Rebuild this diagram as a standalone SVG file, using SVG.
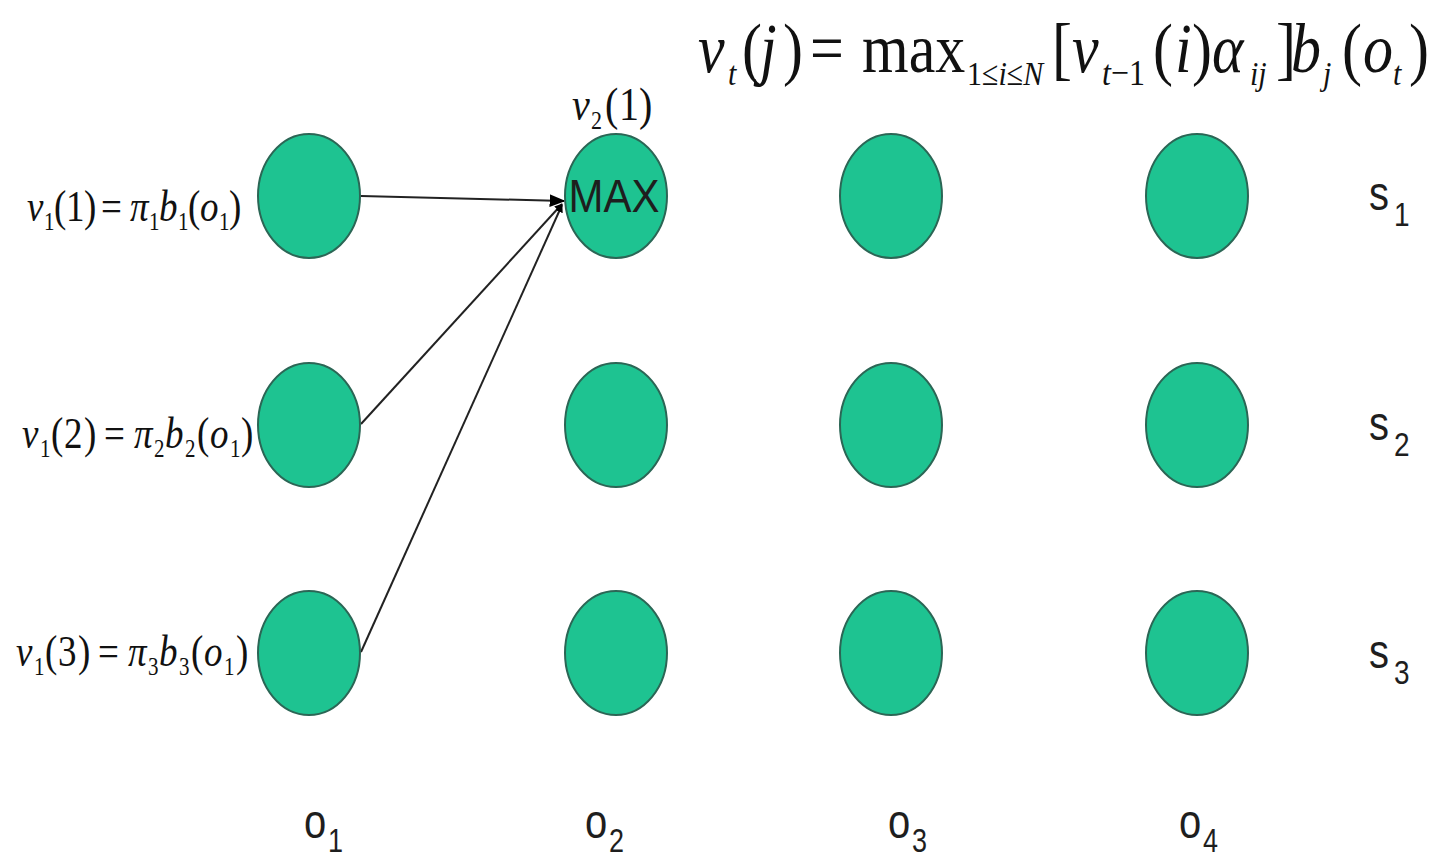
<svg xmlns="http://www.w3.org/2000/svg" width="1449" height="863" viewBox="0 0 1449 863">
<defs>
<style>
.node{fill:#1ec391;stroke:#2b6655;stroke-width:2}
.ser{font-family:"Liberation Serif","Times New Roman",serif;fill:#111}
.it{font-style:italic}
.sans{font-family:"Liberation Sans",Arial,sans-serif;fill:#1e1e1e}
.conn{stroke:#222;stroke-width:2;fill:none}
</style>
<marker id="arr" viewBox="0 0 10 10" refX="9" refY="5" markerWidth="8" markerHeight="8" orient="auto" markerUnits="userSpaceOnUse">
<path d="M0,0 L10,5 L0,10 z" fill="#000"/>
</marker>
<marker id="arrb" viewBox="0 0 10 10" refX="9" refY="5" markerWidth="16" markerHeight="16" orient="auto" markerUnits="userSpaceOnUse">
<path d="M0,1 L10,5 L0,9 z" fill="#000"/>
</marker>
</defs>
<rect width="1449" height="863" fill="#fff"/>

<g id="formula" transform="translate(0,72) scale(1,1.15)" class="ser">
<text font-size="60">
<tspan x="698" y="0" class="it">v</tspan><tspan x="728" y="11" font-size="30" class="it">t</tspan><tspan x="742" y="0">(</tspan><tspan x="760" y="0" class="it">j</tspan><tspan x="783" y="0">)</tspan><tspan x="810" y="0">=</tspan><tspan x="862" y="0">max</tspan><tspan x="967" y="11" font-size="30">1≤<tspan class="it">i</tspan>≤<tspan class="it">N</tspan></tspan><tspan x="1052" y="0">[</tspan><tspan x="1072" y="0" class="it">v</tspan><tspan x="1102" y="11" font-size="32"><tspan class="it">t</tspan>−1</tspan><tspan x="1153" y="0">(</tspan><tspan x="1175" y="0" class="it">i</tspan><tspan x="1192" y="0">)</tspan><tspan x="1212" y="0" class="it">α</tspan><tspan x="1250" y="11" font-size="30" class="it">ij</tspan><tspan x="1276" y="0">]</tspan><tspan x="1291" y="0" class="it">b</tspan><tspan x="1323" y="11" font-size="30" class="it">j</tspan><tspan x="1342" y="0">(</tspan><tspan x="1363" y="0" class="it">o</tspan><tspan x="1393" y="11" font-size="30" class="it">t</tspan><tspan x="1409" y="0">)</tspan>
</text>
</g>

<g id="connectors">
<line class="conn" x1="361" y1="196" x2="564" y2="201" marker-end="url(#arrb)"/>
<line class="conn" x1="361" y1="424" x2="562" y2="204" marker-end="url(#arr)"/>
<line class="conn" x1="361" y1="652" x2="562" y2="205" marker-end="url(#arr)"/>
</g>

<g id="n11"><ellipse class="node" cx="309" cy="196" rx="51" ry="62"/></g>
<g id="n21"><ellipse class="node" cx="309" cy="425" rx="51" ry="62"/></g>
<g id="n31"><ellipse class="node" cx="309" cy="653" rx="51" ry="62"/></g>
<g id="n12"><ellipse class="node" cx="616" cy="196" rx="51" ry="62"/>
<text class="sans" font-size="42" text-anchor="middle" transform="translate(614,212) scale(1,1.12)" x="0" y="0">MAX</text></g>
<g id="n22"><ellipse class="node" cx="616" cy="425" rx="51" ry="62"/></g>
<g id="n32"><ellipse class="node" cx="616" cy="653" rx="51" ry="62"/></g>
<g id="n13"><ellipse class="node" cx="891" cy="196" rx="51" ry="62"/></g>
<g id="n23"><ellipse class="node" cx="891" cy="425" rx="51" ry="62"/></g>
<g id="n33"><ellipse class="node" cx="891" cy="653" rx="51" ry="62"/></g>
<g id="n14"><ellipse class="node" cx="1197" cy="196" rx="51" ry="62"/></g>
<g id="n24"><ellipse class="node" cx="1197" cy="425" rx="51" ry="62"/></g>
<g id="n34"><ellipse class="node" cx="1197" cy="653" rx="51" ry="62"/></g>

<g id="label-v21" transform="translate(0,120) scale(1,1.15)" class="ser">
<text font-size="40"><tspan x="572" y="0" class="it">v</tspan><tspan x="591" y="8" font-size="22">2</tspan><tspan x="605" y="0">(</tspan><tspan x="619" y="0">1</tspan><tspan x="639" y="0">)</tspan></text>
</g>

<g id="label-v11" transform="translate(0,221) scale(1,1.22)" class="ser">
<text font-size="37"><tspan x="27" y="0" class="it">v</tspan><tspan x="44" y="7" font-size="21">1</tspan><tspan x="54" y="0">(</tspan><tspan x="66" y="0">1</tspan><tspan x="84" y="0">)</tspan><tspan x="101" y="0">=</tspan><tspan x="130" y="0" class="it">π</tspan><tspan x="149" y="7" font-size="21">1</tspan><tspan x="159" y="0" class="it">b</tspan><tspan x="178" y="7" font-size="21">1</tspan><tspan x="188" y="0">(</tspan><tspan x="200" y="0" class="it">o</tspan><tspan x="219" y="7" font-size="21">1</tspan><tspan x="229" y="0">)</tspan></text>
</g>
<g id="label-v12" transform="translate(0,448) scale(1,1.22)" class="ser">
<text font-size="37"><tspan x="22" y="0" class="it">v</tspan><tspan x="40" y="7" font-size="21">1</tspan><tspan x="51" y="0">(</tspan><tspan x="64" y="0">2</tspan><tspan x="84" y="0">)</tspan><tspan x="104" y="0">=</tspan><tspan x="134" y="0" class="it">π</tspan><tspan x="154" y="7" font-size="21">2</tspan><tspan x="165" y="0" class="it">b</tspan><tspan x="185" y="7" font-size="21">2</tspan><tspan x="197" y="0">(</tspan><tspan x="210" y="0" class="it">o</tspan><tspan x="230" y="7" font-size="21">1</tspan><tspan x="241" y="0">)</tspan></text>
</g>
<g id="label-v13" transform="translate(0,666) scale(1,1.22)" class="ser">
<text font-size="37"><tspan x="16" y="0" class="it">v</tspan><tspan x="34" y="7" font-size="21">1</tspan><tspan x="45" y="0">(</tspan><tspan x="58" y="0">3</tspan><tspan x="78" y="0">)</tspan><tspan x="98" y="0">=</tspan><tspan x="128" y="0" class="it">π</tspan><tspan x="148" y="7" font-size="21">3</tspan><tspan x="159" y="0" class="it">b</tspan><tspan x="179" y="7" font-size="21">3</tspan><tspan x="191" y="0">(</tspan><tspan x="204" y="0" class="it">o</tspan><tspan x="224" y="7" font-size="21">1</tspan><tspan x="236" y="0">)</tspan></text>
</g>

<g id="states" class="sans" font-size="40">
<text transform="translate(0,210) scale(1,1.2)"><tspan x="1369" y="0">s</tspan><tspan x="1394" y="13" font-size="28">1</tspan></text>
<text transform="translate(0,440) scale(1,1.2)"><tspan x="1369" y="0">s</tspan><tspan x="1394" y="13" font-size="28">2</tspan></text>
<text transform="translate(0,668) scale(1,1.2)"><tspan x="1369" y="0">s</tspan><tspan x="1394" y="13" font-size="28">3</tspan></text>
</g>

<g id="observations" class="sans" font-size="40">
<text transform="translate(0,838) scale(1,1.2)"><tspan x="304" y="0">o</tspan><tspan x="328" y="12" font-size="27">1</tspan></text>
<text transform="translate(0,838) scale(1,1.2)"><tspan x="585" y="0">o</tspan><tspan x="609" y="12" font-size="27">2</tspan></text>
<text transform="translate(0,838) scale(1,1.2)"><tspan x="888" y="0">o</tspan><tspan x="912" y="12" font-size="27">3</tspan></text>
<text transform="translate(0,838) scale(1,1.2)"><tspan x="1179" y="0">o</tspan><tspan x="1203" y="12" font-size="27">4</tspan></text>
</g>
</svg>
